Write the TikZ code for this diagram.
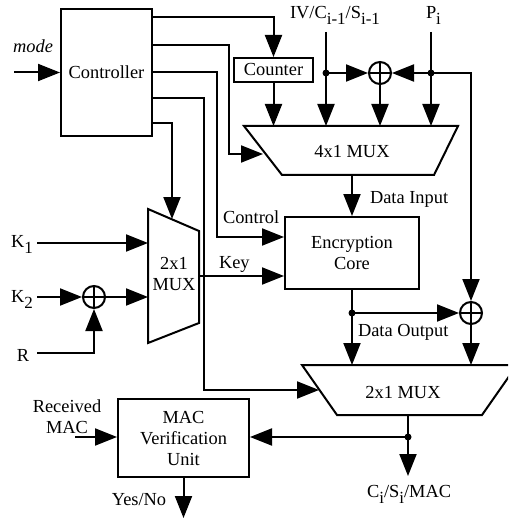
\documentclass[tikz,border=0pt]{standalone}
\usepackage{fontspec}
\setmainfont{Liberation Serif}
\usetikzlibrary{arrows.meta}
\newcommand{\sbx}[1]{\raisebox{-3pt}{\fontsize{8.5}{9}\selectfont #1}}
\begin{document}
\begin{tikzpicture}[x=0.5pt,y=-0.5pt,line width=1pt,
  every node/.style={font=\fontsize{9.2}{10.5}\selectfont,inner sep=0pt},
  box/.style={draw,rectangle,align=center},
  arr/.style={-{Triangle[length=11pt,width=8.5pt]}},
  xor/.style={draw,circle,minimum size=11pt,inner sep=0pt,
    path picture={\draw[line width=0.8pt] (path picture bounding box.north) -- (path picture bounding box.south)
      (path picture bounding box.west) -- (path picture bounding box.east);}},
  dot/.style={circle,fill,inner sep=0pt,minimum size=3.5pt}]
\useasboundingbox (0,0) rectangle (508,518);
\clip (0,0) rectangle (508,518);
% blocks
\node[box,minimum width=45.5pt,minimum height=63.5pt] (ctrl) at (106.5,72.5) {Controller};
\node[box,minimum width=39.5pt,minimum height=12pt] (cnt) at (273.5,70) {Counter};
\node[box,minimum width=67pt,minimum height=36pt] (enc) at (352,253) {Encryption\\Core};
\node[box,minimum width=65.5pt,minimum height=39pt] (mac) at (183.5,438) {MAC\\Verification\\Unit};
% muxes
\draw (244,126) -- (458,126) -- (434,175) -- (282,175) -- cycle;
\node[anchor=base] (m4) at (352,158) {4x1 MUX};
\draw (148,209) -- (199,231) -- (199,323) -- (148,343) -- cycle;
\node[align=center] (m2a) at (174,274) {2x1\\MUX};
\draw (302,365) -- (517,365) -- (482,415) -- (337,415) -- cycle;
\node[anchor=base] (m2b) at (403,398) {2x1 MUX};
% xors
\node[xor] (x1) at (380,73) {};
\node[xor] (x2) at (471,313) {};
\node[xor] (x3) at (94,297) {};
% coordinates
\coordinate (modein) at (14,72.5);
\coordinate (m4ctl) at (263,154);
\coordinate (m2atop) at (172,219);
\coordinate (m2bctl) at (319,390);
\coordinate (ivtop) at (326,32);
\coordinate (ptop) at (431,32);
\coordinate (ivd) at (326,73);
\coordinate (pd) at (431,73);
\coordinate (m4out) at (352,175);
\coordinate (dod) at (352,313);
\coordinate (m2bout) at (408,415);
\coordinate (outd) at (408,437);
\coordinate (outend) at (408,476);
\coordinate (rmac) at (75,437);
\coordinate (yn) at (183.5,518);
\coordinate (k1in) at (37,243);
\coordinate (k2in) at (37,297);
\coordinate (rin) at (37,353);
\coordinate (keyout) at (199,276);
% labels
\node[anchor=base] (model) at (33,53) {\itshape mode};
\node[anchor=base west] (ivl) at (289,19) {IV/C\sbx{i-1}/S\sbx{i-1}};
\node[anchor=base west] (pl) at (425,19) {P\sbx{i}};
\node[anchor=base west] (dil) at (369,203) {Data Input};
\node[anchor=base west] (ctl) at (222,223) {Control};
\node[anchor=base west] (keyl) at (218,268) {Key};
\node[anchor=base west] (dol) at (357,336) {Data Output};
\node[align=center] (rml) at (67,417) {Received\\MAC};
\node[anchor=base] (ynl) at (139,505) {Yes/No};
\node[anchor=base west] (outl) at (366,497) {C\sbx{i}/S\sbx{i}/MAC};
\node[anchor=base west] (k1l) at (10,247) {K\sbx{1}};
\node[anchor=base west] (k2l) at (10,302) {K\sbx{2}};
\node[anchor=base west] (rl) at (16,361) {R};
% controller wires
\draw[arr] (modein) -- (modein -| ctrl.west);
\draw[arr] (ctrl.east |- 0,17) -| (cnt.north);
\draw[arr] (ctrl.east |- 0,45) -| (m4ctl -| 229,0) -- (m4ctl);
\draw[arr] (ctrl.east |- 0,72) -| (217,150) |- (enc.west |- 0,237);
\draw[arr] (ctrl.east |- 0,98) -| (204,300) |- (m2bctl);
\draw[arr] (ctrl.east |- 0,123) -| (m2atop);
% top inputs
\draw[arr] (cnt.south) -- (cnt.south |- 0,126);
\draw[arr] (ivtop) -- (ivtop |- 0,126);
\draw[arr] (ivd) -- (x1.west);
\draw[arr] (x1.south) -- (x1.south |- 0,126);
\draw[arr] (ptop) -- (ptop |- 0,126);
\draw[arr] (pd) -- (x1.east);
\draw[arr] (pd) -| (x2.north);
\node[dot] (d1) at (ivd) {};
\node[dot] (d2) at (pd) {};
% core
\draw[arr] (m4out) -- (enc.north);
\draw[arr] (enc.south) -- (enc.south |- 0,365);
\draw[arr] (dod) -- (x2.west);
\draw[arr] (x2.south) -- (x2.south |- 0,365);
\node[dot] (d3) at (dod) {};
% key side
\draw[arr] (k1in) -- (k1in -| 148,0);
\draw[arr] (k2in) -- (x3.west);
\draw[arr] (x3.east) -- (x3.east -| 148,0);
\draw[arr] (rin) -| (x3.south);
\draw[arr] (keyout) -- (keyout -| enc.west);
% output
\draw[arr] (m2bout) -- (outend);
\draw[arr] (outd) -- (outd -| mac.east);
\node[dot] (d4) at (outd) {};
\draw[arr] (rmac) -- (rmac -| mac.west);
\draw[arr] (mac.south) -- (yn);
\end{tikzpicture}
\end{document}
